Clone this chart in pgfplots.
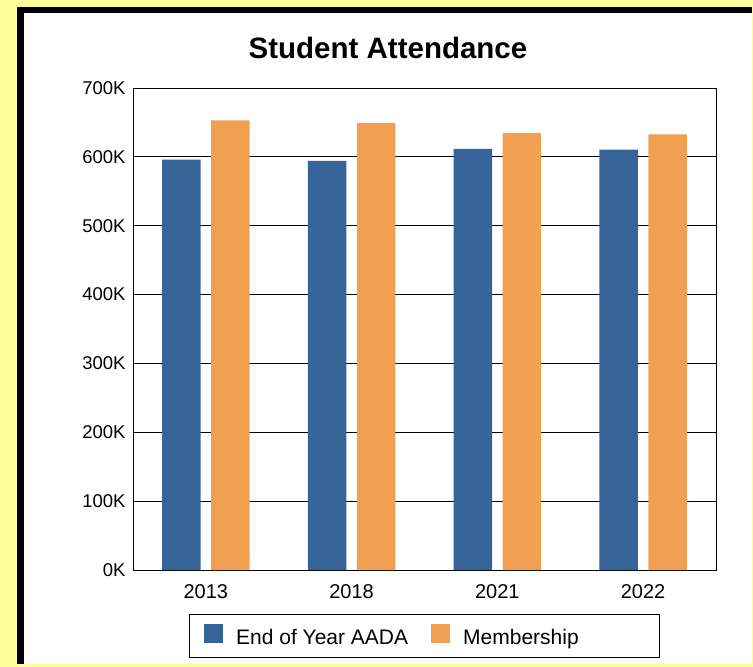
\documentclass[border=0pt]{standalone}
\usepackage{fontspec}
\setmainfont{Liberation Sans}
\usepackage{pgfplots}
\pgfplotsset{compat=1.18}

\definecolor{bgyellow}{RGB}{255,255,158}
\definecolor{aadablue}{RGB}{54,100,152}
\definecolor{memorange}{RGB}{240,160,80}

\begin{document}
\begin{tikzpicture}
% page background and frame
\path[use as bounding box] (0pt,0pt) rectangle (753pt,-667pt);
\fill[bgyellow] (0pt,0pt) rectangle (753pt,-667pt);
\fill[black] (17pt,-7pt) rectangle (752pt,-664pt);
\fill[white] (24pt,-13pt) rectangle (752pt,-664pt);

\node[font=\bfseries\fontsize{29.5}{32}\selectfont, anchor=base] at (388pt,-58pt) {Student Attendance};

\begin{axis}[
    at={(133pt,-570pt)}, anchor=south west,
    scale only axis,
    width=583pt, height=482pt,
    xmin=-0.5, xmax=3.5,
    ymin=0, ymax=700000,
    xtick={0,1,2,3},
    xticklabels={2013,2018,2021,2022},
    ytick={0,100000,200000,300000,400000,500000,600000,700000},
    yticklabels={0K,100K,200K,300K,400K,500K,600K,700K},
    scaled y ticks=false,
    /pgf/number format/assume math mode=true,
    major tick length=0pt,
    ymajorgrids,
    grid style={black, line width=1pt},
    axis line style={black, line width=1pt},
    x tick label style={font=\fontsize{20}{22}\selectfont, yshift=-11pt},
    y tick label style={font=\fontsize{18.5}{21}\selectfont, xshift=-4pt},
    legend columns=2,
    legend image code/.code={\fill[#1] (0pt,-5pt) rectangle (19pt,14pt);},
    legend style={
        at={(axis description cs:0.0955,0)}, anchor=north west,
        yshift=-44pt,
        draw=black, line width=1pt,
        font=\fontsize{21}{23}\selectfont,
        inner xsep=15pt, inner ysep=9.5pt,
        /tikz/every odd column/.append style={column sep=11pt},
        /tikz/every even column/.append style={column sep=21pt},
    },
]
\addplot[ybar, bar width=0.264, bar shift=-0.168, fill=aadablue, draw=none]
    coordinates {(0,596000) (1,594000) (2,611500) (3,610500)};
\addplot[ybar, bar width=0.264, bar shift=0.168, fill=memorange, draw=none]
    coordinates {(0,653000) (1,649500) (2,635000) (3,632500)};
\legend{End of Year AADA,Membership\hspace*{64pt}}
\end{axis}
\end{tikzpicture}
\end{document}
